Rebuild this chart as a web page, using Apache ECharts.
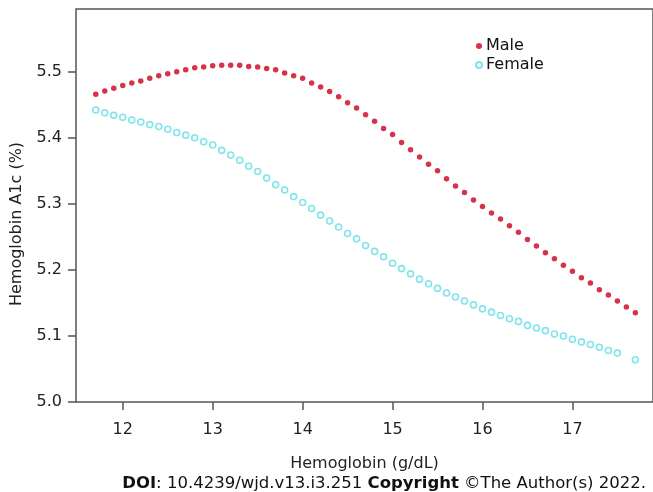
<!DOCTYPE html>
<html lang="en">
  <head>
    <meta charset="UTF-8" />
    <title>Hemoglobin vs HbA1c</title>
    <style>
      html, body { margin: 0; padding: 0; background: #fff; }
      #chart { width: 653px; height: 492px; }
    </style>
  </head>
  <body>
    <div id="chart"></div>
    <script src="https://cdn.jsdelivr.net/npm/echarts@6/dist/echarts.min.js"></script>
    <script>
      const hemoglobin = [
        11.7, 11.8, 11.9, 12.0, 12.1, 12.2, 12.3, 12.4, 12.5, 12.6,
        12.7, 12.8, 12.9, 13.0, 13.1, 13.2, 13.3, 13.4, 13.5, 13.6,
        13.7, 13.8, 13.9, 14.0, 14.1, 14.2, 14.3, 14.4, 14.5, 14.6,
        14.7, 14.8, 14.9, 15.0, 15.1, 15.2, 15.3, 15.4, 15.5, 15.6,
        15.7, 15.8, 15.9, 16.0, 16.1, 16.2, 16.3, 16.4, 16.5, 16.6,
        16.7, 16.8, 16.9, 17.0, 17.1, 17.2, 17.3, 17.4, 17.5, 17.6,
        17.7
      ];
      const male = [
        5.466, 5.471, 5.475, 5.479, 5.483, 5.486, 5.490, 5.494, 5.497, 5.500,
        5.503, 5.506, 5.507, 5.509, 5.510, 5.510, 5.510, 5.508, 5.507, 5.505,
        5.503, 5.498, 5.494, 5.490, 5.483, 5.477, 5.470, 5.462, 5.453, 5.445,
        5.435, 5.425, 5.414, 5.405, 5.393, 5.382, 5.371, 5.360, 5.350, 5.338,
        5.327, 5.317, 5.306, 5.296, 5.286, 5.277, 5.267, 5.257, 5.246, 5.236,
        5.226, 5.217, 5.207, 5.198, 5.188, 5.180, 5.170, 5.162, 5.153, 5.144,
        5.135
      ];
      // one point is missing in the original plot (gap before the last one)
      const female = [
        5.442, 5.438, 5.434, 5.431, 5.427, 5.424, 5.420, 5.417, 5.413, 5.408,
        5.404, 5.400, 5.394, 5.389, 5.381, 5.374, 5.366, 5.357, 5.349, 5.339,
        5.329, 5.321, 5.311, 5.302, 5.293, 5.283, 5.274, 5.265, 5.255, 5.247,
        5.237, 5.228, 5.220, 5.210, 5.202, 5.194, 5.186, 5.179, 5.172, 5.165,
        5.159, 5.153, 5.147, 5.141, 5.136, 5.131, 5.126, 5.122, 5.116, 5.112,
        5.108, 5.103, 5.100, 5.095, 5.091, 5.087, 5.083, 5.078, 5.074, null,
        5.064
      ];
      const xTicks = [12, 13, 14, 15, 16, 17];
      const yTicks = [5.0, 5.1, 5.2, 5.3, 5.4, 5.5];

      const font = "DejaVu Sans";
      const toPairs = (ys) =>
        hemoglobin.map((x, i) => (ys[i] === null ? [x, "-"] : [x, ys[i]]));

      const myChart = echarts.init(document.querySelector("#chart"));
      const option = {
        animation: false,
        textStyle: { fontFamily: font },
        title: {
          text: "{b|DOI}: 10.4239/wjd.v13.i3.251 {b|Copyright} ©The Author(s) 2022.",
          right: 2,
          bottom: -5,
          textStyle: {
            fontFamily: font,
            fontSize: 16.5,
            fontWeight: "normal",
            color: "#111",
            rich: {
              b: { fontFamily: font, fontSize: 16.5, fontWeight: "bold", color: "#111" }
            }
          }
        },
        legend: {
          left: 470,
          top: 33,
          orient: "vertical",
          itemGap: 3,
          itemWidth: 6,
          itemHeight: 6,
          icon: "circle",
          textStyle: { fontFamily: font, fontSize: 16, color: "#111", padding: [0, 0, 0, -1] },
          data: ["Male", "Female"]
        },
        grid: {
          left: 76,
          top: 9,
          right: -3,
          bottom: 90,
          show: true,
          borderColor: "#555",
          borderWidth: 1.5
        },
        graphic: [
          {
            type: "text",
            x: 17,
            y: 224,
            rotation: Math.PI / 2,
            style: {
              text: "Hemoglobin A1c (%)",
              fontFamily: font,
              fontSize: 16,
              fill: "#222",
              align: "center",
              verticalAlign: "middle"
            }
          }
        ],
        xAxis: {
          type: "value",
          min: 11.48,
          max: 17.896,
          name: "Hemoglobin (g/dL)",
          nameLocation: "middle",
          nameGap: 54,
          nameTextStyle: { fontFamily: font, fontSize: 16, color: "#222" },
          axisLine: { show: false },
          splitLine: { show: false },
          axisTick: {
            show: true,
            length: 8,
            customValues: xTicks,
            lineStyle: { color: "#555", width: 1.5 }
          },
          axisLabel: {
            customValues: xTicks,
            margin: 20,
            fontFamily: font,
            fontSize: 16,
            color: "#222"
          }
        },
        yAxis: {
          type: "value",
          min: 5.0,
          max: 5.595,
          axisLine: { show: false },
          splitLine: { show: false },
          axisTick: {
            show: true,
            length: 8,
            customValues: yTicks,
            lineStyle: { color: "#555", width: 1.5 }
          },
          axisLabel: {
            customValues: yTicks,
            margin: 14,
            fontFamily: font,
            fontSize: 16,
            color: "#222",
            formatter: (v) => v.toFixed(1)
          }
        },
        series: [
          {
            name: "Male",
            type: "scatter",
            symbol: "circle",
            symbolSize: 5.5,
            itemStyle: { color: "#cc001c" },
            data: toPairs(male)
          },
          {
            name: "Female",
            type: "scatter",
            symbol: "circle",
            symbolSize: 6,
            itemStyle: { color: "#ffffff", borderColor: "#5fdde6", borderWidth: 1.6 },
            data: toPairs(female)
          }
        ]
      };
      myChart.setOption(option);
    </script>
  </body>
</html>
